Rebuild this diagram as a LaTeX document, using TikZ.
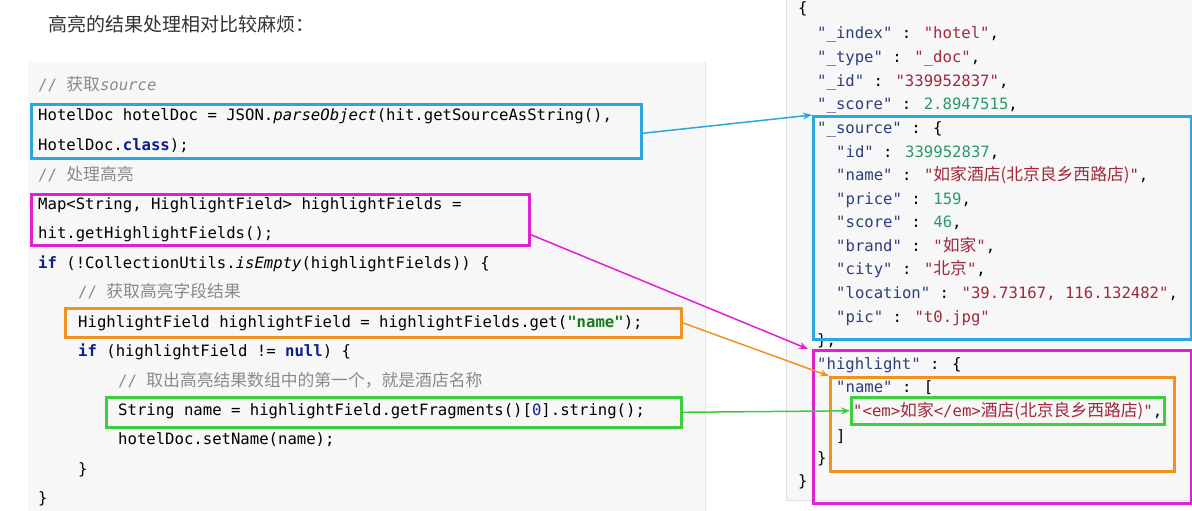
\documentclass[tikz,border=0pt]{standalone}
\usepackage{fontspec}
\setmainfont{Noto Sans}
\newfontfamily\cjk{Noto Sans CJK SC}
\newfontfamily\codef{DejaVu Sans Mono}[Scale=0.93]
\usetikzlibrary{arrows.meta}
\definecolor{cblue}{HTML}{2AA7DF}
\definecolor{cmag}{HTML}{E021D2}
\definecolor{corg}{HTML}{F0921E}
\definecolor{cgrn}{HTML}{3DCF3D}
\definecolor{kw}{HTML}{0A1E8C}
\definecolor{strg}{HTML}{1B7A1B}
\definecolor{cmt}{HTML}{8A8A8A}
\definecolor{jkey}{HTML}{2E3F78}
\definecolor{jstr}{HTML}{A1283A}
\definecolor{jnum}{HTML}{2A9A6A}
\newcommand{\kwd}[1]{\textcolor{kw}{\textbf{#1}}}
\newcommand{\jk}[1]{\textcolor{jkey}{#1}}
\newcommand{\js}[1]{\textcolor{jstr}{#1}}
\newcommand{\jn}[1]{\textcolor{jnum}{#1}}
\begin{document}
\begin{tikzpicture}[x=1pt,y=-1pt,
  code/.style={anchor=base west,inner sep=0pt,font=\codef\fontsize{16.8}{18}\selectfont},
  cmline/.style={code,text=cmt},
  box/.style={draw=#1,line width=2.6pt,anchor=north west,inner sep=0pt},
  conn/.style={draw=#1,line width=1.5pt,-{Stealth[length=9pt,width=7pt]}}]
\useasboundingbox (0,0) rectangle (1192,511);
\fill[white] (0,0) rectangle (1192,511);
\fill[black!3] (28,62) rectangle (705,511);
\draw[black!10,line width=1pt] (705,62) -- (705,511);
\fill[black!3] (786,0) rectangle (1192,500);
\draw[black!12,line width=1pt] (786,0) -- (786,500) -- (1192,500);
\node[anchor=base west,inner sep=0pt,font=\cjk\fontsize{19}{22}\selectfont,text=black!80] (title) at (48,32) {高亮的结果处理相对比较麻烦：};
% left code
\node[cmline] (c1) at (38,91) {// {\cjk 获取}\textit{source}};
\node[code] (l1) at (38,121) {HotelDoc hotelDoc = JSON.\textit{parseObject}(hit.getSourceAsString(),};
\node[code] (l2) at (38,150) {HotelDoc.\kwd{class});};
\node[cmline] (c2) at (38,180) {// {\cjk 处理高亮}};
\node[code] (l3) at (38,209) {Map<String, HighlightField> highlightFields =};
\node[code] (l4) at (38,238) {hit.getHighlightFields();};
\node[code] (l5) at (38,268) {\kwd{if} (!CollectionUtils.\textit{isEmpty}(highlightFields)) \{};
\node[cmline] (c3) at (78,297) {// {\cjk 获取高亮字段结果}};
\node[code] (l6) at (78,327) {HighlightField highlightField = highlightFields.get(\textcolor{strg}{\textbf{"name"}});};
\node[code] (l7) at (78,356) {\kwd{if} (highlightField != \kwd{null}) \{};
\node[cmline] (c4) at (118,386) {// {\cjk 取出高亮结果数组中的第一个，就是酒店名称}};
\node[code] (l8) at (118,415) {String name = highlightField.getFragments()[\textcolor{kw}{0}].string();};
\node[code] (l9) at (118,444) {hotelDoc.setName(name);};
\node[code] (l10) at (78,474) {\}};
\node[code] (l11) at (38,503) {\}};
% right json
\node[code] (j0) at (798,14) {\{};
\node[code] (j1) at (817,39) {\jk{"\_index"} : \js{"hotel"},};
\node[code] (j2) at (817,63) {\jk{"\_type"} : \js{"\_doc"},};
\node[code] (j3) at (817,86) {\jk{"\_id"} : \js{"339952837"},};
\node[code] (j4) at (817,110) {\jk{"\_score"} : \jn{2.8947515},};
\node[code] (j5) at (817,133) {\jk{"\_source"} : \{};
\node[code] (j6) at (836,157) {\jk{"id"} : \jn{339952837},};
\node[code] (j7) at (836,180) {\jk{"name"} : \js{"{\cjk 如家酒店(北京良乡西路店)}"},};
\node[code] (j8) at (836,204) {\jk{"price"} : \jn{159},};
\node[code] (j9) at (836,227) {\jk{"score"} : \jn{46},};
\node[code] (j10) at (836,251) {\jk{"brand"} : \js{"{\cjk 如家}"},};
\node[code] (j11) at (836,274) {\jk{"city"} : \js{"{\cjk 北京}"},};
\node[code] (j12) at (836,298) {\jk{"location"} : \js{"39.73167, 116.132482"},};
\node[code] (j13) at (836,322) {\jk{"pic"} : \js{"t0.jpg"}};
\node[code] (j14) at (817,345) {\},};
\node[code] (j15) at (817,369) {\jk{"highlight"} : \{};
\node[code] (j16) at (836,392) {\jk{"name"} : [};
\node[code] (j17) at (853,416) {\js{"<em>{\cjk 如家}</em>{\cjk 酒店(北京良乡西路店)}"},};
\node[code] (j18) at (836,441) {]};
\node[code] (j19) at (817,463) {\}};
\node[code] (j20) at (798,486) {\}};
% boxes
\node[box=cblue,minimum width=610,minimum height=54] (bL1) at (30,103) {};
\node[box=cmag,minimum width=498,minimum height=51] (bL2) at (30,193) {};
\node[box=corg,minimum width=616,minimum height=29] (bL3) at (64,307) {};
\node[box=cgrn,minimum width=575,minimum height=30] (bL4) at (105,396) {};
\node[box=cblue,minimum width=378,minimum height=223] (bR1) at (812,115) {};
\node[box=cmag,minimum width=378,minimum height=153] (bR2) at (812,349) {};
\node[box=corg,minimum width=344,minimum height=94] (bR3) at (829,376) {};
\node[box=cgrn,minimum width=313,minimum height=27] (bR4) at (850,396) {};
% connectors
\coordinate (a1) at ([yshift=-2pt]bL1.east);
\coordinate (a2) at ([yshift=12pt]bL2.south east);
\draw[conn=cblue] (a1) -- (bR1.north west);
\draw[conn=cmag] (a2) -- ([xshift=-4pt]bR2.north west);
\draw[conn=corg] (bL3.east) -- (bR3.north west);
\draw[conn=cgrn] (bL4.east) -- (bR4.west);
\end{tikzpicture}
\end{document}
